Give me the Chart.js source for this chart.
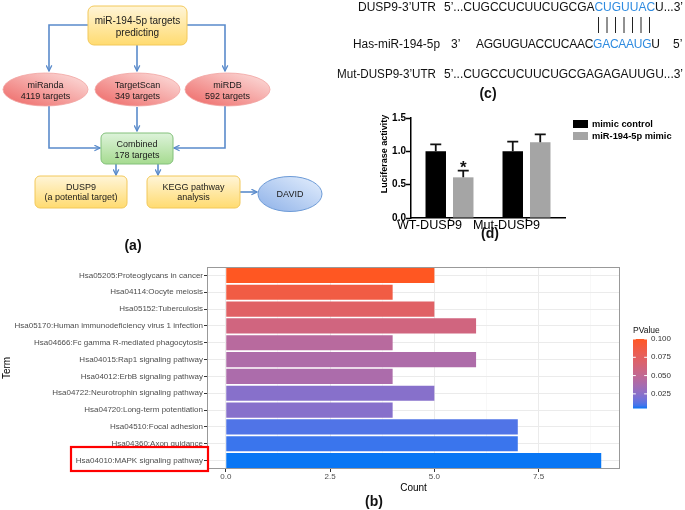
<!DOCTYPE html>
<html><head><meta charset="utf-8">
<script src="https://cdn.jsdelivr.net/npm/chart.js@4"></script>
<style>
html,body{margin:0;padding:0;background:#fff;}
#wrap{position:relative;width:685px;height:510px;overflow:hidden;background:#fff;font-family:"Liberation Sans",Arial,sans-serif;}
canvas{position:absolute;}
#cB{left:0;top:250px;}
#cD{left:360px;top:100px;}
#ov{position:absolute;left:0;top:0;}
</style></head>
<body><div id="wrap">
<canvas id="cB" width="685" height="260"></canvas>
<canvas id="cD" width="325" height="140"></canvas>
<svg id="ov" width="685" height="510" viewBox="0 0 685 510" font-family="Liberation Sans, Arial, sans-serif">
<defs>
 <linearGradient id="gY" x1="0" y1="0" x2="0" y2="1"><stop offset="0" stop-color="#FFF5D8"/><stop offset="1" stop-color="#FFDB70"/></linearGradient>
 <linearGradient id="gG" x1="0" y1="0" x2="0" y2="1"><stop offset="0" stop-color="#DDF3DA"/><stop offset="1" stop-color="#A6DB90"/></linearGradient>
 <linearGradient id="gR" x1="0.9" y1="0.1" x2="0.1" y2="0.9"><stop offset="0" stop-color="#FBD6D4"/><stop offset="1" stop-color="#EF7270"/></linearGradient>
 <linearGradient id="gB" x1="0.9" y1="0.1" x2="0.1" y2="0.9"><stop offset="0" stop-color="#DCE9FB"/><stop offset="1" stop-color="#96B7EA"/></linearGradient>
 <marker id="ah" viewBox="0 0 10 10" refX="9" refY="5" markerWidth="7" markerHeight="7" orient="auto" markerUnits="userSpaceOnUse">
  <path d="M1,1 L9,5 L1,9" fill="none" stroke="#5A8BCB" stroke-width="1.8"/>
 </marker>
</defs>
<g fill="none" stroke="#5A8BCB" stroke-width="1.6" marker-end="url(#ah)">
 <path d="M88,25 H49 V71"/>
 <path d="M137,45 V71"/>
 <path d="M187,25 H225 V71"/>
 <path d="M49,106 V148 H100"/>
 <path d="M137,107 V131"/>
 <path d="M225,106 V148 H174"/>
 <path d="M116,164 V175"/>
 <path d="M158,164 V175"/>
 <path d="M240,192 H257"/>
</g>
<rect x="88" y="6" width="99" height="39" rx="6" fill="url(#gY)" stroke="#F2C85A" stroke-width="1"/>
<ellipse cx="45.5" cy="89.5" rx="42.5" ry="16.5" fill="url(#gR)" stroke="#F1A4A2" stroke-width="0.8"/>
<ellipse cx="137.5" cy="89.5" rx="42.5" ry="16.5" fill="url(#gR)" stroke="#F1A4A2" stroke-width="0.8"/>
<ellipse cx="227.5" cy="89.5" rx="42.5" ry="16.5" fill="url(#gR)" stroke="#F1A4A2" stroke-width="0.8"/>
<rect x="101" y="133" width="72" height="31" rx="5" fill="url(#gG)" stroke="#82C07A" stroke-width="1"/>
<rect x="35" y="176" width="92" height="32" rx="5" fill="url(#gY)" stroke="#F2C85A" stroke-width="1"/>
<rect x="147" y="176" width="93" height="32" rx="5" fill="url(#gY)" stroke="#F2C85A" stroke-width="1"/>
<ellipse cx="290" cy="194" rx="32" ry="17.5" fill="url(#gB)" stroke="#6C9AD6" stroke-width="1"/>
<g fill="#1a1a1a" font-size="9" text-anchor="middle">
 <text x="137.5" y="23.5" font-size="10">miR-194-5p targets</text>
 <text x="137.5" y="35.5" font-size="10">predicting</text>
 <text x="45.5" y="88">miRanda</text><text x="45.5" y="98.5">4119 targets</text>
 <text x="137.5" y="88">TargetScan</text><text x="137.5" y="98.5">349 targets</text>
 <text x="227.5" y="88">miRDB</text><text x="227.5" y="98.5">592 targets</text>
 <text x="137" y="147.3">Combined</text><text x="137" y="158.3">178 targets</text>
 <text x="81" y="189.5">DUSP9</text><text x="81" y="199.5">(a potential target)</text>
 <text x="193.5" y="189.5">KEGG pathway</text><text x="193.5" y="199.5">analysis</text>
 <text x="290" y="197">DAVID</text>
</g>
<g fill="#111" font-size="12">
 <text x="358" y="11.2" textLength="78" lengthAdjust="spacingAndGlyphs">DUSP9-3’UTR</text>
 <text x="444" y="11.2" textLength="239" lengthAdjust="spacing">5’...CUGCCUCUUCUGCGA<tspan fill="#2E8BE0">CUGUUAC</tspan>U...3’</text>
 <text x="353" y="47.5" textLength="87" lengthAdjust="spacingAndGlyphs">Has-miR-194-5p</text>
 <text x="451" y="47.5">3’</text>
 <text x="476" y="47.5" textLength="184" lengthAdjust="spacing">AGGUGUACCUCAAC<tspan fill="#2E8BE0">GACAAUG</tspan>U</text>
 <text x="673" y="47.5">5’</text>
 <text x="337" y="78" textLength="99" lengthAdjust="spacingAndGlyphs">Mut-DUSP9-3’UTR</text>
 <text x="444" y="78" textLength="239" lengthAdjust="spacing">5’...CUGCCUCUUCUGCGAGAGAUUGU...3’</text>
</g>
<g stroke="#222" stroke-width="1">
 <path d="M598.5,17V33 M607,17V33 M615.5,17V33 M624,17V33 M632.5,17V33 M641,17V33 M649.5,17V33"/>
</g>
<g font-size="14" font-weight="bold" fill="#111" text-anchor="middle">
 <text x="133" y="250">(a)</text>
 <text x="488" y="98">(c)</text>
 <text x="490" y="238">(d)</text>
 <text x="374" y="506">(b)</text>
</g>
<rect x="71" y="447" width="137" height="24" fill="none" stroke="#FF0000" stroke-width="2.2"/>
</svg>
</div>
<script>
// ---------- Panel (b) data ----------
const terms = [
 'Hsa05205:Proteoglycans in cancer',
 'Hsa04114:Oocyte meiosis',
 'Hsa05152:Tuberculosis',
 'Hsa05170:Human immunodeficiency virus 1 infection',
 'Hsa04666:Fc gamma R-mediated phagocytosis',
 'Hsa04015:Rap1 signaling pathway',
 'Hsa04012:ErbB signaling pathway',
 'Hsa04722:Neurotrophin signaling pathway',
 'Hsa04720:Long-term potentiation',
 'Hsa04510:Focal adhesion',
 'Hsa04360:Axon guidance',
 'Hsa04010:MAPK signaling pathway'
];
const counts = [5, 4, 5, 6, 4, 6, 4, 5, 4, 7, 7, 9];
const pvalues = [0.100, 0.087, 0.072, 0.060, 0.045, 0.040, 0.039, 0.024, 0.024, 0.011, 0.008, 0.005];
const countTicks = [0, 2.5, 5, 7.5];
const pTicks = [0.025, 0.050, 0.075, 0.100];
const xTitleB = 'Count', yTitleB = 'Term', legendTitleB = 'PValue';

// ---------- Panel (d) data ----------
const groups = ['WT-DUSP9', 'Mut-DUSP9'];
const seriesNames = ['mimic control', 'miR-194-5p mimic'];
const controlMeans = [1.0, 1.0];
const controlErr = [0.105, 0.145];
const mimicMeans = [0.61, 1.135];
const mimicErr = [0.10, 0.12];
const mimicSignif = ['*', ''];
const yTitleD = 'Luciferase activity';

const FF = '"Liberation Sans", Arial, sans-serif';
const LOW = '#0876F4', HIGH = '#FF5722';

// Lab interpolation (like ggplot2 gradients)
function hex2rgb(h){h=h.replace('#','');return [0,2,4].map(i=>parseInt(h.substr(i,2),16));}
function toLin(c){c/=255;return c<=0.04045?c/12.92:Math.pow((c+0.055)/1.055,2.4);}
function fromLin(c){c=c<=0.0031308?12.92*c:1.055*Math.pow(c,1/2.4)-0.055;return Math.max(0,Math.min(255,Math.round(c*255)));}
function rgb2lab(rgb){const [r,g,b]=rgb.map(toLin);
 const X=(0.4124*r+0.3576*g+0.1805*b)/0.95047, Y=0.2126*r+0.7152*g+0.0722*b, Z=(0.0193*r+0.1192*g+0.9505*b)/1.08883;
 const f=t=>t>0.008856?Math.cbrt(t):7.787*t+16/116;
 const fx=f(X),fy=f(Y),fz=f(Z);return [116*fy-16,500*(fx-fy),200*(fy-fz)];}
function lab2rgb(lab){const fy=(lab[0]+16)/116,fx=fy+lab[1]/500,fz=fy-lab[2]/200;
 const fi=t=>{const t3=t*t*t;return t3>0.008856?t3:(t-16/116)/7.787;};
 const X=0.95047*fi(fx),Y=fi(fy),Z=1.08883*fi(fz);
 const r=3.2406*X-1.5372*Y-0.4986*Z,g=-0.9689*X+1.8758*Y+0.0415*Z,b=0.0557*X-0.2040*Y+1.0570*Z;
 return [r,g,b].map(fromLin);}
const labLow=rgb2lab(hex2rgb(LOW)), labHigh=rgb2lab(hex2rgb(HIGH));
function lerpColor(t){const l=labLow.map((v,i)=>v+(labHigh[i]-v)*t);const c=lab2rgb(l);return `rgb(${c[0]},${c[1]},${c[2]})`;}
const pmin=Math.min(...pvalues), pmax=Math.max(...pvalues);
const pColor=p=>lerpColor((p-pmin)/(pmax-pmin));
const isMajor=v=>countTicks.some(t=>Math.abs(t-v)<1e-6);

const panelB = {
 id:'panelB',
 afterDraw(chart){
  const {ctx, chartArea:a} = chart;
  ctx.save();
  ctx.strokeStyle='#999'; ctx.lineWidth=1;
  ctx.strokeRect(a.left+0.5,a.top+0.5,a.right-a.left-1,a.bottom-a.top-1);
  const x0=633,w=14,top=89,bot=158.5;
  const g=ctx.createLinearGradient(0,bot,0,top);
  for(let k=0;k<=24;k++) g.addColorStop(k/24, lerpColor(k/24));
  ctx.fillStyle=g; ctx.fillRect(x0,top,w,bot-top);
  ctx.font='8px '+FF; ctx.textAlign='left'; ctx.textBaseline='middle';
  pTicks.forEach(p=>{
   const y=bot-(p-pmin)/(pmax-pmin)*(bot-top);
   ctx.strokeStyle='#fff'; ctx.beginPath();
   ctx.moveTo(x0,y);ctx.lineTo(x0+2.8,y);ctx.moveTo(x0+w-2.8,y);ctx.lineTo(x0+w,y);ctx.stroke();
   ctx.fillStyle='#333'; ctx.fillText(p.toFixed(3), x0+w+4, y);
  });
  ctx.fillStyle='#111'; ctx.font='8.5px '+FF; ctx.fillText(legendTitleB, x0, 81);
  ctx.restore();
 }
};

new Chart(document.getElementById('cB'), {
 type:'bar',
 data:{labels:terms, datasets:[{data:counts, backgroundColor:pvalues.map(pColor), borderWidth:0, barPercentage:0.9, categoryPercentage:1}]},
 options:{
  indexAxis:'y', responsive:false, animation:false,
  layout:{padding:{top:17,right:65,left:0,bottom:0}},
  plugins:{legend:{display:false}, tooltip:{enabled:false}},
  scales:{
   x:{type:'linear', min:-0.45, max:9.45, afterFit(s){s.height=41;},
      ticks:{stepSize:1.25, includeBounds:false, autoSkip:false, maxRotation:0, padding:0, color:'#4D4D4D', font:{family:FF,size:8},
             callback:v=>isMajor(v)?v.toFixed(1):''},
      grid:{color:c=>(c.tick&&isMajor(c.tick.value))?'#EBEBEB':'#F4F4F4', lineWidth:c=>(c.tick&&isMajor(c.tick.value))?1:0.6,
            tickColor:c=>(c.tick&&isMajor(c.tick.value))?'#333':'rgba(0,0,0,0)', tickLength:3},
      border:{display:false},
      title:{display:true,text:xTitleB,color:'#000',font:{family:FF,size:10},padding:{top:0,bottom:16}}},
   y:{afterFit(s){s.width=207;},
      ticks:{autoSkip:false,padding:1,color:'#4D4D4D',font:{family:FF,size:8}},
      grid:{offset:false,color:'#EBEBEB',tickColor:'#333',tickLength:3},
      border:{display:false},
      title:{display:true,text:yTitleB,color:'#000',font:{family:FF,size:10},padding:{top:1,bottom:0}}}
  }
 },
 plugins:[panelB]
});

// ---------- Panel (d) ----------
const legColors = ['#000000', '#A5A5A5'];
const errPlugin = {
 id:'errbars',
 afterDatasetsDraw(chart){
  const ctx=chart.ctx, ys=chart.scales.y;
  chart.data.datasets.forEach((ds,i)=>{
   const meta=chart.getDatasetMeta(i);
   meta.data.forEach((el,j)=>{
    const yTop=ys.getPixelForValue(ds.data[j]+ds.errors[j]);
    ctx.save(); ctx.strokeStyle='#111'; ctx.lineWidth=1.8;
    ctx.beginPath(); ctx.moveTo(el.x,el.y); ctx.lineTo(el.x,yTop);
    ctx.moveTo(el.x-5.5,yTop); ctx.lineTo(el.x+5.5,yTop); ctx.stroke();
    if(ds.signif && ds.signif[j]){
     ctx.fillStyle='#111'; ctx.font='bold 17px '+FF; ctx.textAlign='center'; ctx.textBaseline='alphabetic';
     ctx.fillText(ds.signif[j], el.x, yTop+2.5);
    }
    ctx.restore();
   });
  });
  ctx.save(); ctx.translate(25,54); ctx.rotate(-Math.PI/2);
  ctx.font='bold 9px '+FF; ctx.fillStyle='#000'; ctx.textAlign='center'; ctx.textBaseline='middle';
  ctx.fillText(yTitleD,0,0); ctx.restore();
 }
};

new Chart(document.getElementById('cD'), {
 type:'bar',
 data:{labels:groups, datasets:[
  {label:seriesNames[0], data:controlMeans, errors:controlErr, backgroundColor:legColors[0], borderWidth:0},
  {label:seriesNames[1], data:mimicMeans, errors:mimicErr, signif:mimicSignif, backgroundColor:legColors[1], borderWidth:0}
 ]},
 options:{
  responsive:false, animation:false,
  layout:{padding:{top:18,right:120,left:0,bottom:0}},
  datasets:{bar:{categoryPercentage:0.714, barPercentage:0.745}},
  plugins:{legend:{display:false}, tooltip:{enabled:false}},
  scales:{
   x:{afterFit(s){s.height=22;},
      grid:{offset:false, drawOnChartArea:false, tickLength:3, tickColor:'#000', tickWidth:1.5},
      border:{color:'#000', width:1.5},
      ticks:{padding:-3, labelOffset:-20, color:'#000', font:{family:FF,size:12.6}}},
   y:{min:0, max:1.5, afterFit(s){s.width=51;},
      ticks:{stepSize:0.5, padding:0, color:'#000', font:{family:FF,size:10,weight:'bold'}, callback:v=>v.toFixed(1)},
      grid:{drawOnChartArea:false, tickLength:5, tickColor:'#000', tickWidth:1.5},
      border:{color:'#000', width:1.5}}
  }
 },
 plugins:[errPlugin]
});

const wrap=document.getElementById('wrap');
seriesNames.forEach((n,i)=>{
 const row=document.createElement('div');
 row.style.cssText=`position:absolute;left:573px;top:${118+i*12}px;height:12px;display:flex;align-items:center;font:bold 9.3px ${FF};color:#000;white-space:nowrap;`;
 row.innerHTML=`<span style="display:inline-block;width:15px;height:8px;background:${legColors[i]};margin-right:4px"></span>${n}`;
 wrap.appendChild(row);
});
</script>
</body></html>
